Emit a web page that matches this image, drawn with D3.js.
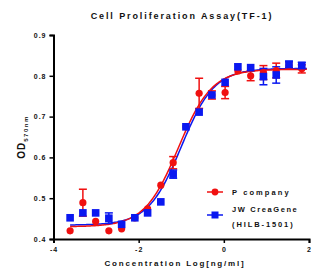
<!DOCTYPE html>
<html><head><meta charset="utf-8">
<script src="https://cdn.jsdelivr.net/npm/d3@7"></script>
<style>
body{margin:0;background:#fff;}
text{font-family:"Liberation Sans",Arial,sans-serif;font-weight:bold;fill:#111;}
</style></head>
<body><svg id="c" width="311" height="269"></svg>
<script>
const logConc = [-3.61,-3.31,-3.01,-2.70,-2.40,-2.09,-1.79,-1.48,-1.19,-0.89,-0.58,-0.28,0.03,0.33,0.63,0.93,1.23,1.53,1.83];
const pValues = [0.420,0.489,0.443,0.420,0.425,0.452,0.474,0.532,0.587,0.675,0.757,0.753,0.759,0.812,0.800,0.808,0.813,0.826,0.817];
const pErrors = [0,0.033,0,0,0,0,0,0,0.015,0,0.037,0.010,0.015,0,0.012,0.017,0.018,0.008,0.010];
const jwValues = [0.452,0.464,0.464,0.451,0.436,0.452,0.464,0.491,0.559,0.675,0.711,0.753,0.784,0.822,0.820,0.798,0.802,0.828,0.825];
const jwErrors = [0,0,0,0.013,0,0,0,0,0.010,0,0,0,0,0,0,0.020,0.020,0.008,0.008];
// 4PL fit parameters [bottom, top, logEC50, hill]
const pFit = [0.430, 0.816, -1.07, 1.1];
const jwFit = [0.434, 0.818, -1.00, 1.12];
const xTicks = [-4,-2,0,2];
const yTicks = [0.4,0.5,0.6,0.7,0.8,0.9];

const svg = d3.select("#c");
const x = d3.scaleLinear().domain([-4,2]).range([53.5,309]);
const y = d3.scaleLinear().domain([0.4,0.9]).range([239,35]);

svg.append("text").attr("x",182).attr("y",19).attr("text-anchor","middle")
  .style("font-size","9px").style("letter-spacing","1.9px").text("Cell Proliferation Assay(TF-1)");

const yAx = svg.append("g").attr("transform","translate(53.5,0)")
  .call(d3.axisLeft(y).tickValues(yTicks).tickFormat(d3.format(".1f")).tickSize(4).tickPadding(3));
const xAx = svg.append("g").attr("transform","translate(0,239)")
  .call(d3.axisBottom(x).tickValues(xTicks).tickFormat(d=>d).tickSize(4).tickPadding(3));
[yAx,xAx].forEach(g=>{
  g.select(".domain").attr("stroke","#000").attr("stroke-width",2);
  g.selectAll(".tick line").attr("stroke","#000").attr("stroke-width",1.5);
  g.selectAll(".tick text").style("font-size","7px").style("letter-spacing","1px").attr("fill","#111");
});
xAx.selectAll(".tick text").attr("dy","0.9em");

svg.append("text").attr("x",175).attr("y",266).attr("text-anchor","middle")
  .style("font-size","8px").style("letter-spacing","1.8px").text("Concentration Log[ng/ml]");

const yl = svg.append("text").attr("transform","translate(25,137) rotate(-90)").attr("text-anchor","middle");
yl.append("tspan").style("font-size","10px").style("letter-spacing","1px").text("OD");
yl.append("tspan").style("font-size","6px").style("letter-spacing","1.5px").attr("dy","3").text("570nm");

function fitLine(p){
  const xs = d3.range(0,201).map(i=>-3.61+(1.95+3.61)*i/200);
  return xs.map(v=>[v, p[0]+(p[1]-p[0])/(1+Math.pow(10,(p[2]-v)*p[3]))]);
}
const line = d3.line().x(d=>x(d[0])).y(d=>y(d[1]));
svg.append("path").attr("d",line(fitLine(jwFit))).attr("fill","none").attr("stroke","#0a18f0").attr("stroke-width",1.5);
svg.append("path").attr("d",line(fitLine(pFit))).attr("fill","none").attr("stroke","#f01010").attr("stroke-width",1.5);

function errBars(vals,errs,color){
  const g = svg.append("g").attr("stroke",color).attr("stroke-width",1.5);
  logConc.forEach((c,i)=>{
    if(!errs[i]) return;
    const cx=x(c), y1=y(vals[i]+errs[i]), y2=y(vals[i]-errs[i]);
    g.append("line").attr("x1",cx).attr("x2",cx).attr("y1",y1).attr("y2",y2);
    g.append("line").attr("x1",cx-4).attr("x2",cx+4).attr("y1",y1).attr("y2",y1);
    g.append("line").attr("x1",cx-4).attr("x2",cx+4).attr("y1",y2).attr("y2",y2);
  });
}
errBars(pValues,pErrors,"#f01010");
errBars(jwValues,jwErrors,"#0a18f0");

svg.append("g").selectAll("circle").data(logConc).join("circle")
  .attr("cx",d=>x(d)).attr("cy",(d,i)=>y(pValues[i])).attr("r",3.6).attr("fill","#f01010");
svg.append("g").selectAll("rect").data(logConc).join("rect")
  .attr("x",d=>x(d)-3.8).attr("y",(d,i)=>y(jwValues[i])-3.8).attr("width",7.6).attr("height",7.6).attr("fill","#0a18f0");

// legend
const lg = svg.append("g");
lg.append("line").attr("x1",207).attr("x2",223).attr("y1",192).attr("y2",192).attr("stroke","#f01010").attr("stroke-width",1.5);
lg.append("circle").attr("cx",215).attr("cy",192).attr("r",3.4).attr("fill","#f01010");
lg.append("text").attr("x",232).attr("y",195).style("font-size","7.5px").style("letter-spacing","2.1px").text("P company");
lg.append("line").attr("x1",207).attr("x2",223).attr("y1",215).attr("y2",215).attr("stroke","#0a18f0").attr("stroke-width",1.5);
lg.append("rect").attr("x",211.5).attr("y",211.5).attr("width",7).attr("height",7).attr("fill","#0a18f0");
lg.append("text").attr("x",232).attr("y",212).style("font-size","7.5px").style("letter-spacing","1.6px").text("JW CreaGene");
lg.append("text").attr("x",232).attr("y",227).style("font-size","7.5px").style("letter-spacing","1.9px").text("(HILB-1501)");
</script></body></html>
